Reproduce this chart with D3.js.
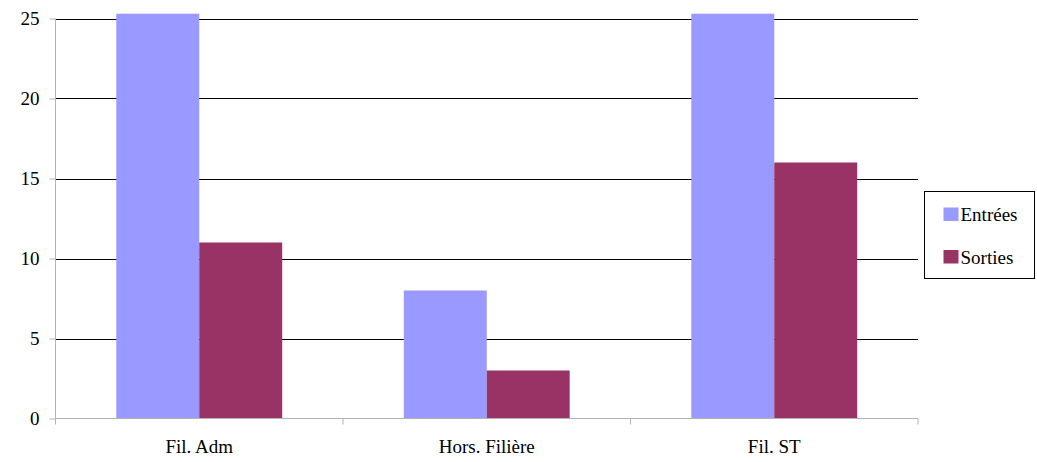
<!DOCTYPE html>
<html><head><meta charset="utf-8">
<script src="https://cdn.jsdelivr.net/npm/d3@7"></script>
<style>body{margin:0;background:#fff}svg{display:block}</style>
</head><body><svg id="c" width="1037" height="462"></svg>
<script>
const categories = ["Fil. Adm", "Hors. Filière", "Fil. ST"];
const seriesNames = ["Entrées", "Sorties"];
const entrees = [25.3, 8, 25.3];
const sorties = [11, 3, 16];
const yTicks = [0, 5, 10, 15, 20, 25];
const colors = ["#9999FF", "#993366"];

const FONT = "Liberation Serif";
const FS = 19;
const svg = d3.select("#c");
const L = 55.5, R = 918, T = 18.5, B = 418.5;
const x = d3.scaleBand().domain(categories).range([L, R]).padding(0);
const xs = d3.scaleBand().domain(seriesNames).range([0, x.bandwidth()]).paddingOuter(0.733).paddingInner(0);
const y = d3.scaleLinear().domain([0, 25]).range([B, T]);

// gridlines
svg.append("g").selectAll("line").data(yTicks.filter(d => d > 0)).join("line")
  .attr("x1", L).attr("x2", R).attr("y1", d => Math.round(y(d)) + 0.5).attr("y2", d => Math.round(y(d)) + 0.5)
  .attr("stroke", "#000").attr("stroke-width", 1);

// bars
const data = categories.map((c, i) => ({c, vals: [entrees[i], sorties[i]]}));
svg.append("g").selectAll("g").data(data).join("g")
  .attr("transform", d => `translate(${x(d.c)},0)`)
  .selectAll("rect").data(d => d.vals.map((v, j) => ({v, s: seriesNames[j], j}))).join("rect")
  .attr("x", d => xs(d.s)).attr("width", xs.bandwidth())
  .attr("y", d => y(d.v)).attr("height", d => y(0) - y(d.v))
  .attr("fill", d => colors[d.j]);

// axes
const yAxis = d3.axisLeft(y).tickValues(yTicks).tickSize(6).tickPadding(10);
const gy = svg.append("g").attr("transform", `translate(${L},0)`).call(yAxis)
  .attr("font-family", FONT).attr("font-size", FS);
gy.select(".domain").attr("stroke", "#b3b3b3").attr("d", `M0,${B}V${T}`);
gy.selectAll(".tick line").attr("stroke", "#b3b3b3");
gy.selectAll(".tick text").attr("fill", "#000").attr("font-family", FONT).attr("font-size", FS);

const gx = svg.append("g").attr("transform", `translate(0,${B})`)
  .call(d3.axisBottom(x).tickSize(0).tickPadding(21))
  .attr("font-family", FONT).attr("font-size", FS);
gx.select(".domain").attr("stroke", "#b3b3b3").attr("d", `M${L},0H${R}`);
gx.selectAll(".tick text").attr("fill", "#000").attr("font-family", FONT).attr("font-size", FS);
gx.selectAll(".bnd").data(d3.range(categories.length + 1)).join("line")
  .attr("x1", i => L + i * x.bandwidth()).attr("x2", i => L + i * x.bandwidth())
  .attr("y1", 0).attr("y2", 6).attr("stroke", "#b3b3b3");

// legend
const lg = svg.append("g");
lg.append("rect").attr("x", 924.5).attr("y", 191.5).attr("width", 110).attr("height", 87)
  .attr("fill", "#fff").attr("stroke", "#000");
seriesNames.forEach((s, i) => {
  const base = 221 + i * 42.5;
  lg.append("rect").attr("x", 943.5).attr("y", base - 13.5).attr("width", 15).attr("height", 13.5).attr("fill", colors[i]);
  lg.append("text").attr("x", 960.5).attr("y", base).attr("font-family", FONT).attr("font-size", FS).text(s);
});
</script></body></html>
